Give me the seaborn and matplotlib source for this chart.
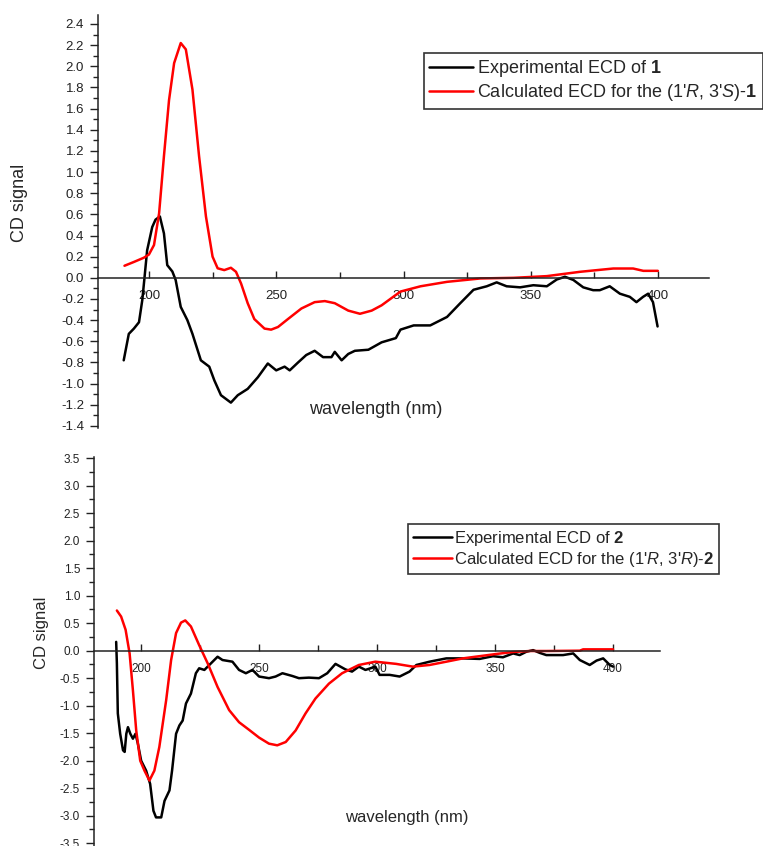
import matplotlib
matplotlib.use("Agg")
import matplotlib.pyplot as plt
import seaborn as sns
import pandas as pd
from matplotlib.ticker import MultipleLocator, FormatStrFormatter

# --- values (wavelength in nm, CD signal) ---
# panel 1, experimental ECD of 1
exp1_nm = [190.1, 192.1, 194.1, 196.1, 197.4, 198.3, 199.3, 201.3, 202.6, 204.3,
           205.9, 207.2, 209.2, 210.5, 212.5, 215.1, 217.1, 220.4, 223.7, 225.7,
           228.3, 232.2, 234.9, 238.8, 242.8, 246.7, 250.0, 253.3, 255.3, 258.6,
           261.8, 265.1, 268.4, 271.7, 273.0, 275.7, 278.3, 280.9, 286.2, 291.4,
           297.0, 298.8, 304.0, 310.5, 317.1, 322.3, 327.5, 332.7, 336.6, 340.5,
           345.8, 351.0, 356.3, 360.2, 363.4, 366.7, 370.6, 374.5, 377.1, 381.0,
           385.0, 388.9, 391.5, 394.1, 396.1, 398.0, 399.8]
exp1_cd = [-0.78, -0.53, -0.48, -0.42, -0.21, 0.01, 0.26, 0.48, 0.55, 0.58,
           0.42, 0.12, 0.06, -0.02, -0.275, -0.40, -0.53, -0.78, -0.84, -0.97,
           -1.11, -1.18, -1.11, -1.05, -0.94, -0.81, -0.875, -0.84, -0.875, -0.80,
           -0.73, -0.69, -0.75, -0.75, -0.70, -0.78, -0.72, -0.69, -0.68, -0.61,
           -0.57, -0.49, -0.45, -0.45, -0.37, -0.24, -0.113, -0.08, -0.043, -0.08,
           -0.09, -0.07, -0.08, -0.016, 0.01, -0.02, -0.09, -0.117, -0.117, -0.08,
           -0.15, -0.18, -0.23, -0.18, -0.15, -0.23, -0.46]

# panel 1, calculated ECD for (1'R, 3'S)-1
calc1_nm = [190.4, 194.1, 198.0, 200.0, 202.0, 204.0, 205.9, 207.9, 209.9, 212.5,
            214.5, 217.1, 219.7, 222.4, 225.0, 227.0, 229.6, 232.2, 234.2, 236.2,
            238.8, 241.4, 245.4, 248.0, 250.7, 254.6, 259.9, 265.1, 269.1, 273.0,
            278.3, 282.9, 287.5, 291.4, 298.8, 306.7, 317.1, 330.2, 343.3, 356.3,
            369.4, 382.4, 390.2, 394.2, 399.9]
calc1_cd = [0.114, 0.15, 0.19, 0.22, 0.31, 0.61, 1.15, 1.68, 2.03, 2.22,
            2.16, 1.78, 1.15, 0.58, 0.20, 0.09, 0.073, 0.095, 0.057, -0.054,
            -0.24, -0.39, -0.48, -0.49, -0.465, -0.39, -0.29, -0.23, -0.22, -0.24,
            -0.31, -0.34, -0.31, -0.26, -0.13, -0.08, -0.038, -0.006, 0.0, 0.016,
            0.057, 0.088, 0.088, 0.066, 0.066]

# panel 2, experimental ECD of 2
exp2_nm = [189.4, 189.7, 190.1, 191.1, 192.3, 193.0, 193.7, 194.4, 195.4, 196.5,
           197.6, 198.6, 200.0, 202.1, 203.8, 205.2, 206.3, 208.5, 209.9, 212.0,
           213.1, 214.8, 216.2, 217.6, 219.0, 221.1, 223.2, 224.6, 226.8, 228.9,
           231.0, 232.4, 234.5, 238.7, 241.5, 244.4, 247.2, 250.0, 254.2, 257.0,
           259.9, 264.1, 266.9, 271.1, 275.4, 278.9, 282.4, 286.6, 289.4, 292.3,
           295.1, 299.3, 301.1, 305.4, 309.6, 313.8, 316.7, 322.3, 329.4, 336.4,
           343.5, 349.2, 353.4, 357.7, 360.5, 363.3, 366.2, 369.0, 371.8, 378.9,
           383.2, 386.0, 390.2, 393.1, 395.9, 398.7, 400.1]
exp2_cd = [0.16, -0.23, -1.14, -1.51, -1.81, -1.84, -1.51, -1.39, -1.51, -1.60,
           -1.51, -1.69, -2.0, -2.18, -2.42, -2.91, -3.03, -3.03, -2.73, -2.54,
           -2.18, -1.51, -1.36, -1.27, -0.96, -0.78, -0.41, -0.32, -0.35, -0.26,
           -0.17, -0.11, -0.17, -0.20, -0.35, -0.41, -0.35, -0.47, -0.50, -0.47,
           -0.41, -0.46, -0.50, -0.49, -0.50, -0.41, -0.24, -0.34, -0.38, -0.29,
           -0.35, -0.29, -0.44, -0.44, -0.47, -0.38, -0.26, -0.20, -0.14, -0.14,
           -0.15, -0.10, -0.12, -0.05, -0.08, -0.02, 0.01, -0.04, -0.08, -0.08,
           -0.05, -0.17, -0.26, -0.18, -0.14, -0.26, -0.29]

# panel 2, calculated ECD for (1'R, 3'R)-2
calc2_nm = [189.7, 191.5, 193.4, 195.1, 196.5, 197.9, 199.6, 201.4, 203.5, 205.6,
            207.7, 210.6, 212.7, 214.8, 216.9, 218.7, 221.1, 224.6, 228.2, 232.4,
            237.3, 241.5, 245.8, 250.0, 254.2, 257.7, 261.3, 265.5, 269.7, 273.9,
            279.6, 285.2, 292.3, 299.3, 308.1, 315.2, 322.3, 329.4, 336.4, 343.5,
            350.6, 357.7, 364.8, 371.8, 386.0, 387.4, 400.1]
calc2_cd = [0.73, 0.62, 0.38, -0.05, -0.72, -1.45, -2.0, -2.18, -2.36, -2.18,
            -1.75, -0.90, -0.17, 0.32, 0.51, 0.55, 0.44, 0.10, -0.23, -0.66,
            -1.08, -1.30, -1.44, -1.58, -1.69, -1.72, -1.66, -1.45, -1.14, -0.87,
            -0.60, -0.41, -0.26, -0.20, -0.24, -0.29, -0.26, -0.20, -0.14, -0.10,
            -0.06, -0.024, -0.006, -0.006, 0.0, 0.024, 0.024]

labels1 = ["Experimental ECD of $\\mathbf{1}$",
           "Calculated ECD for the (1'$\\mathit{R}$, 3'$\\mathit{S}$)-$\\mathbf{1}$"]
labels2 = ["Experimental ECD of $\\mathbf{2}$",
           "Calculated ECD for the (1'$\\mathit{R}$, 3'$\\mathit{R}$)-$\\mathbf{2}$"]

sns.set_style("ticks")
plt.rcParams["font.family"] = ["Liberation Sans", "DejaVu Sans"]
plt.rcParams["mathtext.fontset"] = "custom"
plt.rcParams["mathtext.rm"] = "Liberation Sans"
plt.rcParams["mathtext.it"] = "Liberation Sans:italic"
plt.rcParams["mathtext.bf"] = "Liberation Sans:bold"
plt.rcParams["axes.unicode_minus"] = False

W, H = 763, 846
fig = plt.figure(figsize=(W / 100, H / 100), dpi=100)

# axes placed in pixel terms (left, top, right, bottom)
ax1 = fig.add_axes([98 / W, (H - 428) / H, 611 / W, 413 / H])
ax2 = fig.add_axes([94 / W, 0, 566 / W, 389 / H])


def draw_panel(ax, e_nm, e_cd, c_nm, c_cd, labels):
    sns.lineplot(x=e_nm, y=e_cd, ax=ax, color="black", lw=1.8,
                 estimator=None, label=labels[0])
    sns.lineplot(x=c_nm, y=c_cd, ax=ax, color="red", lw=1.8,
                 estimator=None, label=labels[1])
    ax.set_xlim(180, 420)
    for s in ["top", "right"]:
        ax.spines[s].set_visible(False)
    ax.spines["bottom"].set_position(("data", 0))
    for s in ["left", "bottom"]:
        ax.spines[s].set_linewidth(1.1)
        ax.spines[s].set_color("#222222")
    ax.xaxis.set_major_locator(MultipleLocator(50))
    ax.xaxis.set_minor_locator(MultipleLocator(25))
    ax.yaxis.set_major_formatter(FormatStrFormatter("%.1f"))
    ax.tick_params(axis="x", which="both", direction="in", pad=9, colors="#222222")
    ax.tick_params(axis="x", which="major", length=5, width=1)
    ax.tick_params(axis="x", which="minor", length=4, width=1)
    ax.tick_params(axis="y", which="both", direction="out", colors="#222222")
    ax.tick_params(axis="y", which="major", length=6, width=1, pad=4)
    ax.tick_params(axis="y", which="minor", length=3.5, width=1)
    ax.set_xlabel("wavelength (nm)")
    ax.set_ylabel("CD signal")


# --- panel 1 ---
draw_panel(ax1, exp1_nm, exp1_cd, calc1_nm, calc1_cd, labels1)
ax1.set_ylim(-1.42, 2.485)
ax1.yaxis.set_major_locator(MultipleLocator(0.2))
ax1.yaxis.set_minor_locator(MultipleLocator(0.1))
ax1.tick_params(labelsize=9.5)
ax1.xaxis.label.set_size(13)
ax1.yaxis.label.set_size(13)
ax1.xaxis.set_label_coords(0.455, 0.066)
ax1.yaxis.set_label_coords(-0.115, 0.545)
ax1.legend(loc="upper left", bbox_to_anchor=(424 / W, 1 - 53 / H),
           bbox_transform=fig.transFigure, borderaxespad=0, fancybox=False,
           framealpha=1, edgecolor="#333333", fontsize=13, handlelength=2.4,
           handletextpad=0.22, labelspacing=0.15, borderpad=0.3
           ).get_frame().set_linewidth(1.2)

# --- panel 2 ---
draw_panel(ax2, exp2_nm, exp2_cd, calc2_nm, calc2_cd, labels2)
ax2.set_ylim(-3.55, 3.52)
ax2.yaxis.set_major_locator(MultipleLocator(0.5))
ax2.yaxis.set_minor_locator(MultipleLocator(0.25))
ax2.tick_params(labelsize=8.5)
ax2.xaxis.label.set_size(12)
ax2.yaxis.label.set_size(12)
ax2.xaxis.set_label_coords(0.553, 0.093)
ax2.yaxis.set_label_coords(-0.08, 0.548)
ax2.legend(loc="upper left", bbox_to_anchor=(408 / W, 1 - 524 / H),
           bbox_transform=fig.transFigure, borderaxespad=0, fancybox=False,
           framealpha=1, edgecolor="#333333", fontsize=12, handlelength=2.35,
           handletextpad=0.12, labelspacing=0.1, borderpad=0.3
           ).get_frame().set_linewidth(1.2)

fig.savefig("out.png", dpi=100)
plt.close(fig)
